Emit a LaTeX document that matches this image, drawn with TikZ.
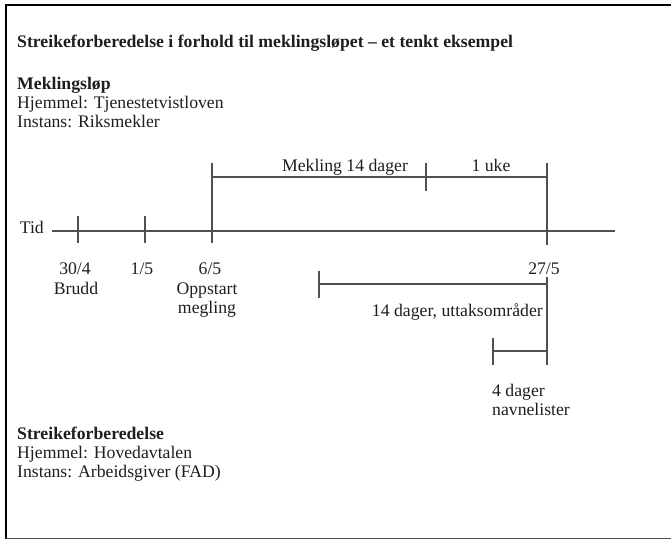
\documentclass[tikz,border=0pt]{standalone}
\usepackage{fontspec}
\setmainfont{Liberation Serif}
\definecolor{ln}{RGB}{80,80,80}
\definecolor{tx}{RGB}{30,30,30}
\tikzset{
  txt/.style={font=\fontsize{17.7}{19}\selectfont, text=tx, inner sep=0pt, text height=12.5pt, text depth=3.5pt},
  bar/.style={draw=ln, line width=1.6pt},
  frame/.style={draw=black, line width=2.5pt}
}
\begin{document}
\begin{tikzpicture}[x=1pt,y=-1pt]
\useasboundingbox (0,0) rectangle (671,540);
% frame
\draw[frame] (6,539) -- (6,5) -- (671,5);
\draw[draw=ln, line width=1.5pt] (6,538.5) -- (671,538.5);
% header texts
\node[txt, anchor=west] (title) at (17,43) {\bfseries Streikeforberedelse i forhold til meklingsløpet – et tenkt eksempel};
\node[txt, anchor=west] (mek1) at (17,85) {\bfseries Meklingsløp};
\node[txt, anchor=west] (mek2) at (17,104) {Hjemmel: Tjenestetvistloven};
\node[txt, anchor=west] (mek3) at (17,123) {Instans: Riksmekler};
% timeline
\node[txt, anchor=east] (tid) at (44,229) {Tid};
\coordinate (tl0) at (52,231);
\coordinate (tl1) at (615,231);
\draw[bar] (tl0) -- (tl1);
\coordinate (t1a) at (78,216); \coordinate (t1b) at (78,243);
\coordinate (t2a) at (145,216); \coordinate (t2b) at (145,243);
\coordinate (t3a) at (212,163); \coordinate (t3b) at (212,243);
\coordinate (t4a) at (547,163); \coordinate (t4b) at (547,245);
\draw[bar] (t1a) -- (t1b);
\draw[bar] (t2a) -- (t2b);
\draw[bar] (t3a) -- (t3b);
\draw[bar] (t4a) -- (t4b);
% mekling bar
\coordinate (mb0) at (212,177);
\coordinate (mb1) at (547,177);
\draw[bar] (mb0) -- (mb1);
\coordinate (mka) at (426,163); \coordinate (mkb) at (426,191);
\draw[bar] (mka) -- (mkb);
\node[txt] (mekling) at (345,167) {Mekling 14 dager};
\node[txt] (uke) at (491,167) {1 uke};
% date labels
\node[txt] (d1) at (75,270) {30/4};
\node[txt] (brudd) at (76,290) {Brudd};
\node[txt] (d2) at (142,270) {1/5};
\node[txt] (d3) at (210,270) {6/5};
\node[txt] (opp) at (207,290) {Oppstart};
\node[txt] (meg) at (207,309) {megling};
\node[txt] (d4) at (544,270) {27/5};
% 14 dager bar
\coordinate (ub0) at (319,284);
\coordinate (ub1) at (547,284);
\coordinate (uta) at (319,271); \coordinate (utb) at (319,298);
\draw[bar] (ub0) -- (ub1);
\draw[bar] (uta) -- (utb);
\coordinate (v0) at (547,277); \coordinate (v1) at (547,365);
\draw[bar] (v0) -- (v1);
\node[txt, anchor=east] (uttak) at (543,312) {14 dager, uttaksområder};
% 4 dager bar
\coordinate (fb0) at (493,351);
\coordinate (fb1) at (547,351);
\coordinate (fta) at (493,338); \coordinate (ftb) at (493,365);
\draw[bar] (fb0) -- (fb1);
\draw[bar] (fta) -- (ftb);
\node[txt, anchor=west] (fourd) at (492,392) {4 dager};
\node[txt, anchor=west] (navn) at (492,411) {navnelister};
% bottom texts
\node[txt, anchor=west] (str1) at (17,435) {\bfseries Streikeforberedelse};
\node[txt, anchor=west] (str2) at (17,454) {Hjemmel: Hovedavtalen};
\node[txt, anchor=west] (str3) at (17,473) {Instans: Arbeidsgiver (FAD)};
\end{tikzpicture}
\end{document}
